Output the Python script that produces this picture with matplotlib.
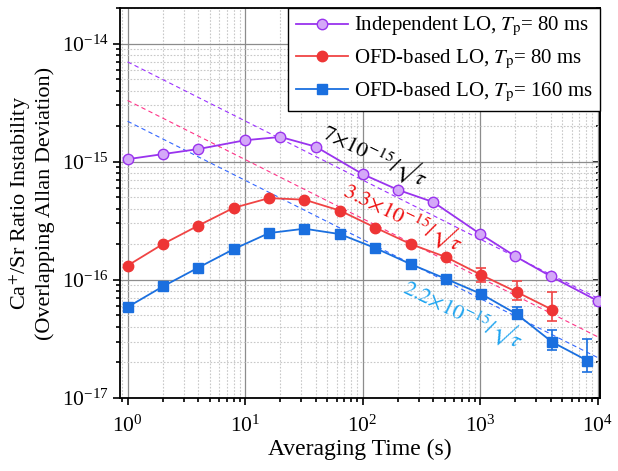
import numpy as np
import matplotlib
matplotlib.use("Agg")
import matplotlib.pyplot as plt
from matplotlib.ticker import LogLocator, NullFormatter

plt.rcParams['font.family'] = ['Liberation Serif', 'DejaVu Serif']
plt.rcParams['mathtext.fontset'] = 'stix'

# averaging times (s)
tau_ind = [1, 2, 4, 10, 20, 40, 100, 200, 400, 1000, 2000, 4000, 10000]
tau_80 = [1, 2, 4, 8, 16, 32, 64, 128, 256, 512, 1024, 2048, 4096]
tau_160 = [1, 2, 4, 8, 16, 32, 64, 128, 256, 512, 1024, 2048, 4096, 8192]

# overlapping Allan deviation
adev_ind = [1.05e-15, 1.16e-15, 1.28e-15, 1.52e-15, 1.62e-15, 1.34e-15, 7.85e-16,
            5.78e-16, 4.55e-16, 2.45e-16, 1.58e-16, 1.07e-16, 6.65e-17]
adev_80 = [1.32e-16, 2.01e-16, 2.88e-16, 4.07e-16, 4.92e-16, 4.77e-16, 3.86e-16,
           2.77e-16, 2.01e-16, 1.56e-16, 1.10e-16, 7.9e-17, 5.6e-17]
adev_160 = [5.88e-17, 8.8e-17, 1.27e-16, 1.82e-16, 2.49e-16, 2.71e-16, 2.44e-16,
            1.86e-16, 1.36e-16, 1.02e-16, 7.59e-17, 5.13e-17, 2.98e-17, 2.07e-17]

# error bars (only on the long averaging times)
err_tau_80 = [1024, 2048, 4096]
err_adev_80 = [1.10e-16, 7.9e-17, 5.6e-17]
err_lo_80 = [1.4e-17, 1.1e-17, 1.1e-17]
err_hi_80 = [1.7e-17, 1.8e-17, 2.3e-17]
err_tau_160 = [2048, 4096, 8192]
err_adev_160 = [5.13e-17, 2.98e-17, 2.07e-17]
err_lo_160 = [0.5e-17, 0.45e-17, 0.42e-17]
err_hi_160 = [0.8e-17, 0.81e-17, 1.09e-17]

# white noise fits  a/sqrt(tau)
fit_tau = np.array([1, 1e4])
fit_coef = [7e-15, 3.3e-15, 2.2e-15]
fit_colors = ['#9b30ff', '#ff3388', '#3366ff']

c_ind = '#9933ee'
c_80 = '#f04444'
c_160 = '#1a6fdf'

fig = plt.figure(figsize=(6.18, 4.71), dpi=100)
ax = fig.add_axes([0.194, 0.155, 0.777, 0.828])

for a, c in zip(fit_coef, fit_colors):
    ax.plot(fit_tau, a / np.sqrt(fit_tau), ls=(0, (4, 3)), lw=0.8, color=c, zorder=2)

ax.plot(tau_ind, adev_ind, '-o', color=c_ind, lw=1.3, ms=7.5, mfc='#d4a8f8', mec=c_ind,
        mew=1.0, label=r'Independent LO, $T_\mathrm{p}$= 80 ms', zorder=4)
ax.plot(tau_80, adev_80, '-o', color=c_80, lw=1.3, ms=7.5, mfc='#ee3535', mec='#ee3535',
        label=r'OFD-based LO, $T_\mathrm{p}$= 80 ms', zorder=4)
ax.plot(tau_160, adev_160, '-s', color=c_160, lw=1.3, ms=6.5, mfc=c_160, mec=c_160,
        label=r'OFD-based LO, $T_\mathrm{p}$= 160 ms', zorder=4)

ax.errorbar(err_tau_80, err_adev_80, yerr=[err_lo_80, err_hi_80], fmt='none',
            ecolor=c_80, elinewidth=1.2, capsize=3.5, capthick=1.2, zorder=3)
ax.errorbar(err_tau_160, err_adev_160, yerr=[err_lo_160, err_hi_160], fmt='none',
            ecolor=c_160, elinewidth=1.2, capsize=3.5, capthick=1.2, zorder=3)

ax.set_xscale('log')
ax.set_yscale('log')
ax.set_xlim(0.86, 1.05e4)
ax.set_ylim(1e-17, 2e-14)

ax.xaxis.set_major_locator(LogLocator(base=10, numticks=10))
ax.xaxis.set_minor_locator(LogLocator(base=10, subs=np.arange(2, 10), numticks=10))
ax.yaxis.set_major_locator(LogLocator(base=10, numticks=10))
ax.yaxis.set_minor_locator(LogLocator(base=10, subs=np.arange(2, 10), numticks=10))
ax.xaxis.set_minor_formatter(NullFormatter())
ax.yaxis.set_minor_formatter(NullFormatter())

ax.grid(True, which='major', color='#8c8c8c', lw=0.9)
ax.grid(True, which='minor', color='#c8c8c8', lw=0.8, ls=(0, (1.5, 1.5)))
ax.set_axisbelow(True)

for s in ax.spines.values():
    s.set_linewidth(1.3)
ax.tick_params(which='both', direction='out', width=1.2, labelsize=15.5, top=False, right=False)
ax.tick_params(which='major', length=5, pad=3)
ax.tick_params(which='minor', length=3)
ax.tick_params(axis='x', which='major', pad=8)
axr = ax.secondary_yaxis('right')
axr.yaxis.set_major_locator(LogLocator(base=10, numticks=10))
axr.yaxis.set_minor_locator(LogLocator(base=10, subs=np.arange(2, 10), numticks=10))
axr.tick_params(which='both', direction='in', width=1.2, labelright=False)
axr.tick_params(which='major', length=5)
axr.tick_params(which='minor', length=3)
axr.yaxis.set_minor_formatter(NullFormatter())
axr.spines['right'].set_linewidth(1.3)

ax.set_xlabel('Averaging Time (s)', fontsize=17, labelpad=1)
ax.set_ylabel('Ca$^{+}$/Sr Ratio Instability\n(Overlapping Allan Deviation)', fontsize=16,
              labelpad=5, linespacing=1.15)

ax.text(127, 1.15e-15, r'$7{\times}10^{-15}/√\tau$', color='black', fontsize=16,
        rotation=-26, ha='center', va='center', zorder=5)
ax.text(224, 3.42e-16, r'$3.3{\times}10^{-15}/√\tau$', color='#ee1111', fontsize=16,
        rotation=-26, ha='center', va='center', zorder=5)
ax.text(725, 5.16e-17, r'$2.2{\times}10^{-15}/√\tau$', color='#1ea4f0', fontsize=16,
        rotation=-26, ha='center', va='center', zorder=5)

leg = ax.legend(loc='upper right', fontsize=15, fancybox=False, framealpha=1,
                edgecolor='black', borderaxespad=0.0, handlelength=2.5,
                labelspacing=0.45, borderpad=0.35, handletextpad=0.3)
leg.get_frame().set_linewidth(1.0)
leg.set_zorder(10)

fig.savefig('out.png', dpi=100)
